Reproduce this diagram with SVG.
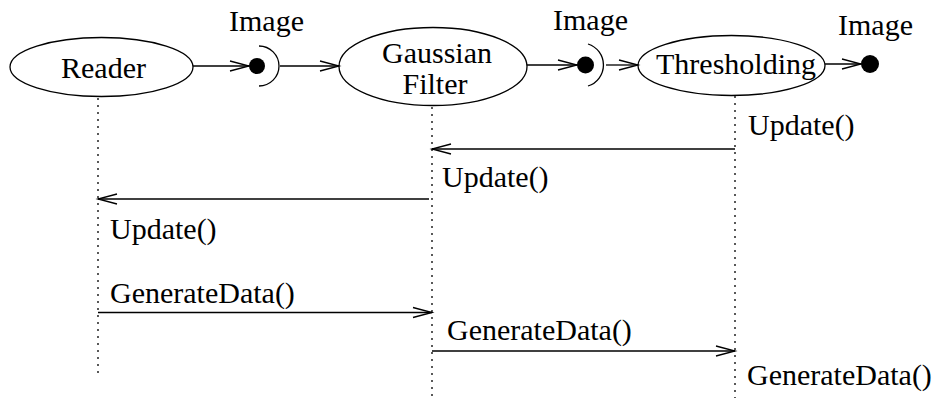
<svg xmlns="http://www.w3.org/2000/svg" width="932" height="400" viewBox="0 0 932 400">
<style>
text{font-family:"Liberation Serif","Times New Roman",serif;font-size:30px;fill:#000}
.node{fill:#fff;stroke:#000;stroke-width:1.3}
.ln{fill:none;stroke:#000;stroke-width:1.3}
.life{fill:none;stroke:#000;stroke-width:1.3;stroke-dasharray:2 5}
.ball{fill:#000}
</style>
<defs>
<marker id="open" markerUnits="userSpaceOnUse" markerWidth="24" markerHeight="14" viewBox="-20 -7 22 14" refX="0" refY="0" orient="auto">
<path d="M -19 -5 L 0 0 L -19 5" fill="none" stroke="#000" stroke-width="1.3"/>
</marker>
</defs>
<rect width="932" height="400" fill="#fff"/>
<g id="reader">
<ellipse class="node" cx="101.5" cy="67" rx="91.5" ry="29.5"/>
<text x="103.5" y="78" text-anchor="middle">Reader</text>
</g>
<g id="gaussian">
<ellipse class="node" cx="433" cy="66.5" rx="94" ry="39"/>
<text x="437" y="63" text-anchor="middle">Gaussian</text>
<text x="435" y="94" text-anchor="middle">Filter</text>
</g>
<g id="thresholding">
<ellipse class="node" cx="731.5" cy="65.5" rx="93.5" ry="30"/>
<text x="736" y="74" text-anchor="middle">Thresholding</text>
</g>
<g id="port1">
<circle class="ball" cx="257" cy="66" r="8"/>
<path class="ln" d="M 259 46 A 20 20 0 0 1 259 86"/>
<text x="229" y="31">Image</text>
</g>
<g id="port2">
<circle class="ball" cx="585.5" cy="65" r="8.5"/>
<path class="ln" d="M 588 44 A 22 22 0 0 1 588 86"/>
<text x="553" y="30">Image</text>
</g>
<g id="port3">
<circle class="ball" cx="870" cy="64" r="9"/>
<text x="838" y="35">Image</text>
</g>
<g id="connectors">
<line class="ln" x1="193" y1="66" x2="249" y2="66" marker-end="url(#open)"/>
<line class="ln" x1="280" y1="66" x2="339" y2="66" marker-end="url(#open)"/>
<line class="ln" x1="527" y1="65" x2="577" y2="65" marker-end="url(#open)"/>
<line class="ln" x1="606" y1="65" x2="638" y2="65" marker-end="url(#open)"/>
<line class="ln" x1="825" y1="64" x2="861" y2="64" marker-end="url(#open)"/>
<line class="life" x1="98" y1="98" x2="98" y2="378"/>
<line class="life" x1="432" y1="107" x2="432" y2="398"/>
<line class="life" x1="735" y1="96" x2="735" y2="398"/>
<line class="ln" x1="735" y1="149" x2="432" y2="149" marker-end="url(#open)"/>
<line class="ln" x1="429" y1="199" x2="98" y2="199" marker-end="url(#open)"/>
<line class="ln" x1="98" y1="312.5" x2="432" y2="312.5" marker-end="url(#open)"/>
<line class="ln" x1="432" y1="351" x2="735" y2="351" marker-end="url(#open)"/>
</g>
<g id="labels">
<text x="748" y="135">Update()</text>
<text x="442" y="187">Update()</text>
<text x="110" y="239">Update()</text>
<text x="110" y="303">GenerateData()</text>
<text x="447" y="340">GenerateData()</text>
<text x="747" y="385">GenerateData()</text>
</g>
</svg>
